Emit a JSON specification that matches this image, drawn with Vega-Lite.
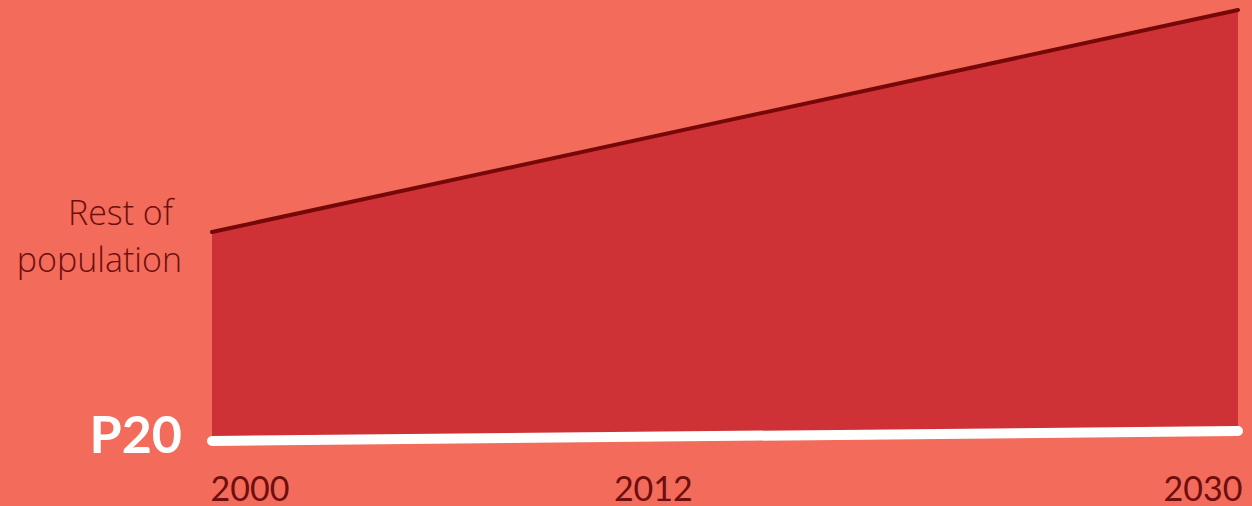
{
  "$schema": "https://vega.github.io/schema/vega-lite/v6.json",
  "autosize": "none",
  "width": 1026,
  "height": 460,
  "padding": {"left": 212, "right": 14, "top": 0, "bottom": 46},
  "background": "#F26B5B",
  "config": {"view": {"stroke": null}, "font": "Lato"},
  "data": {"values": [
    {"year": 2000, "total": 228, "p20": 19},
    {"year": 2030, "total": 450, "p20": 29}
  ]},
  "encoding": {
    "x": {"field": "year", "type": "quantitative",
      "scale": {"domain": [2000, 2030], "nice": false, "zero": false},
      "axis": {"title": null, "values": [2000, 2012, 2030], "format": "d", "domain": false, "ticks": false, "grid": false,
        "labelFontSize": 34, "labelColor": "#6E0E0E", "labelPadding": 13, "labelFont": "Lato", "labelFlush": false,
        "labelAlign": {"condition": {"test": "datum.value == 2030", "value": "right"}, "value": "left"},
        "labelOffset": {"condition": [{"test": "datum.value == 2030", "value": 4}, {"test": "datum.value == 2012", "value": -9}], "value": -2}}}
  },
  "layer": [
    {"mark": {"type": "area", "color": "#CF3236"},
     "encoding": {
       "y": {"field": "total", "type": "quantitative", "scale": {"domain": [0, 460], "nice": false}, "axis": null},
       "y2": {"field": "p20"}}},
    {"mark": {"type": "line", "color": "#760808", "strokeWidth": 4, "strokeCap": "round"},
     "encoding": {"y": {"field": "total", "type": "quantitative"}}},
    {"mark": {"type": "line", "color": "#FFFFFF", "strokeWidth": 10, "strokeCap": "round"},
     "encoding": {"y": {"field": "p20", "type": "quantitative"}}},
    {"transform": [{"filter": "datum.year == 2000"}],
     "mark": {"type": "text", "align": "right", "baseline": "alphabetic", "dx": -39, "dy": -7, "fontSize": 34, "fontWeight": 300, "color": "#6E0E0E", "font": "Open Sans", "text": "Rest of"},
     "encoding": {"y": {"field": "total", "type": "quantitative"}}},
    {"transform": [{"filter": "datum.year == 2000"}],
     "mark": {"type": "text", "align": "right", "baseline": "alphabetic", "dx": -30, "dy": 40, "fontSize": 34, "fontWeight": 300, "color": "#6E0E0E", "font": "Open Sans", "text": "population"},
     "encoding": {"y": {"field": "total", "type": "quantitative"}}},
    {"transform": [{"filter": "datum.year == 2000"}],
     "mark": {"type": "text", "align": "right", "baseline": "middle", "dx": -30, "dy": -4, "fontSize": 52, "fontWeight": "bold", "color": "#FFFFFF", "font": "Lato", "text": "P20"},
     "encoding": {"y": {"field": "p20", "type": "quantitative"}}}
  ]
}
